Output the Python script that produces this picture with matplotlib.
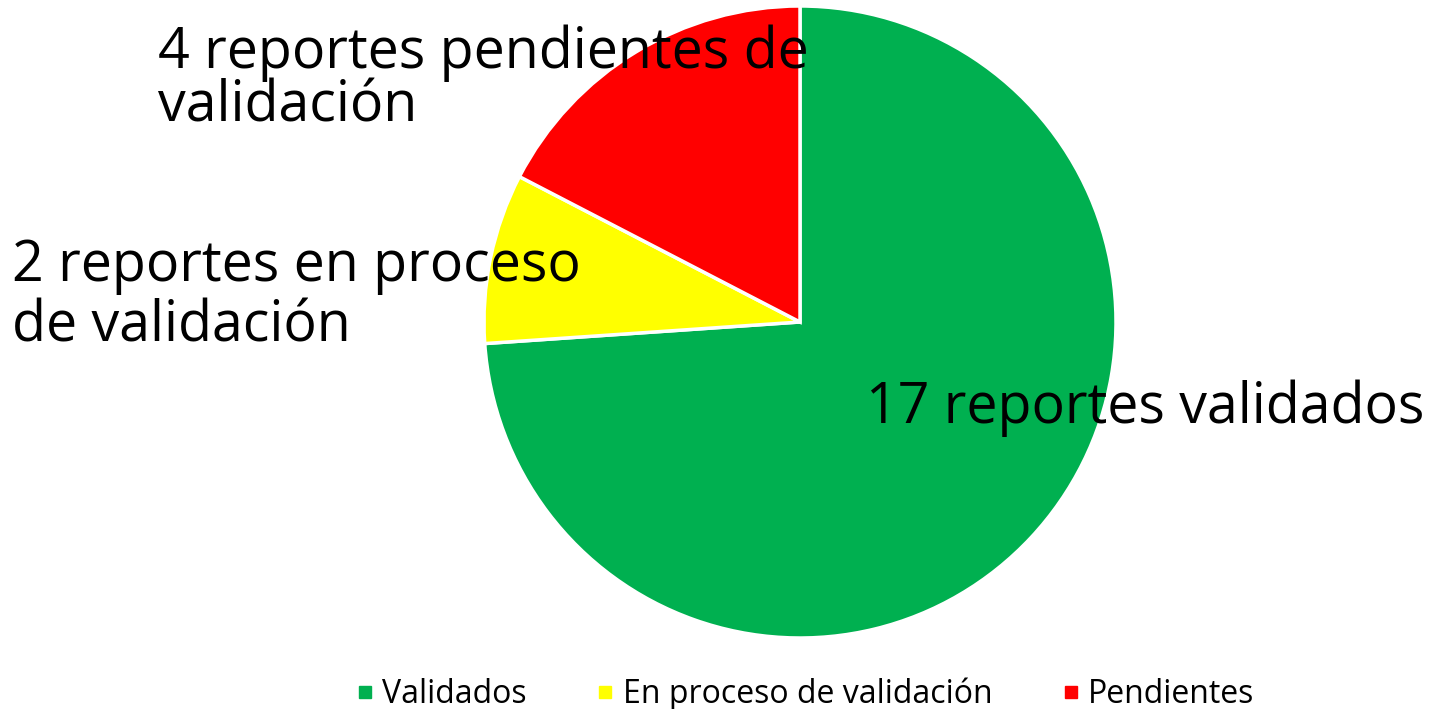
import matplotlib.pyplot as plt
from matplotlib.lines import Line2D

categories = ['Validados', 'En proceso de validación', 'Pendientes']
values = [17, 2, 4]
colors = ['#00B050', '#FFFF00', '#FF0000']
data_labels = ['17 reportes validados',
               '2 reportes en proceso\nde validación',
               '4 reportes pendientes de\nvalidación']

FONT = 'Open Sans'
W, H = 1431, 709


def main():
    plt.rcParams['font.family'] = [FONT, 'DejaVu Sans']
    fig = plt.figure(figsize=(W / 100, H / 100), dpi=100)
    ax = fig.add_axes([484 / W, 71 / H, 632 / W, 632 / H])
    ax.pie(values, colors=colors, startangle=90, counterclock=False,
           radius=1, wedgeprops=dict(edgecolor='white', linewidth=2.5))
    ax.set_xlim(-1, 1)
    ax.set_ylim(-1, 1)
    ax.set_aspect('equal')
    ax.axis('off')

    # data labels, placed like the original (left edge, baseline of each line)
    label_lines = [[(866, 423)],
                   [(12, 281), (12, 342)],
                   [(158, 68), (158, 122)]]
    for text, lines in zip(data_labels, label_lines):
        for part, (x, y) in zip(text.split('\n'), lines):
            fig.text(x / W, 1 - y / H, part, fontsize=40, ha='left',
                     va='baseline', color='black')

    handles = [Line2D([], [], marker='s', linestyle='none', color=c,
                      markersize=8) for c in colors]
    fig.legend(handles, categories, loc='lower center', ncol=3,
               bbox_to_anchor=(0.563, -0.044), frameon=False, fontsize=23,
               handlelength=0.5, handletextpad=0.3, columnspacing=2.2)

    fig.savefig('out.png', dpi=100)


if __name__ == '__main__':
    main()
